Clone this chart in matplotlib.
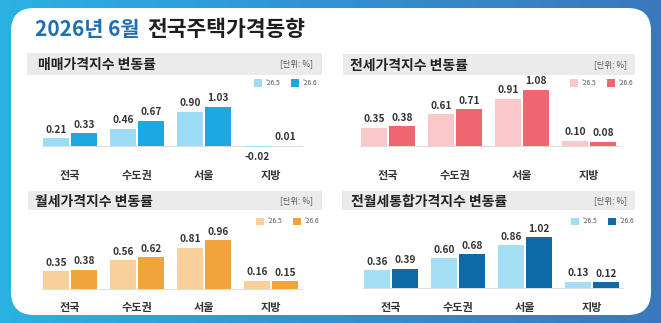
import numpy as np
import matplotlib.pyplot as plt
from matplotlib.patches import FancyBboxPatch, Rectangle
from matplotlib.colors import LinearSegmentedColormap
import matplotlib.transforms as mtransforms

plt.rcParams['font.family'] = ['Noto Sans CJK KR', 'DejaVu Sans']

# data
regions = ['전국', '수도권', '서울', '지방']
series_names = ["'26.5", "'26.6"]
titles = ['매매가격지수 변동률', '전세가격지수 변동률', '월세가격지수 변동률', '전월세통합가격지수 변동률']
may_vals = [
    [0.21, 0.46, 0.90, -0.02],
    [0.35, 0.61, 0.91, 0.10],
    [0.35, 0.56, 0.81, 0.16],
    [0.36, 0.60, 0.86, 0.13],
]
jun_vals = [
    [0.33, 0.67, 1.03, 0.01],
    [0.38, 0.71, 1.08, 0.08],
    [0.38, 0.62, 0.96, 0.15],
    [0.39, 0.68, 1.02, 0.12],
]
light_colors = ['#9edcf5', '#fac7cb', '#f9cf9c', '#a3def5']
dark_colors = ['#1ca8e2', '#f06670', '#f2a43c', '#0e6aa6']

W, H = 661, 323
fig = plt.figure(figsize=(W / 100, H / 100), dpi=100)


def fx(x):
    return x / W


def fy(y):
    return 1 - y / H


# background gradient + white card
bg = fig.add_axes([0, 0, 1, 1])
bg.set_axis_off()
cmap = LinearSegmentedColormap.from_list('bg', ['#2bb1e3', '#3391d2', '#3a78bc'])
grad = np.linspace(0, 1, 256).reshape(1, -1)
bg.imshow(grad, aspect='auto', cmap=cmap, extent=[0, 1, 0, 1])
bg.set_xlim(0, 1)
bg.set_ylim(0, 1)
card = FancyBboxPatch((fx(11), fy(315)), fx(651) - fx(11), fy(8) - fy(315),
                      boxstyle='round,pad=0,rounding_size=0.035', mutation_aspect=W / H,
                      facecolor='white', edgecolor='none', transform=bg.transAxes)
bg.add_patch(card)

# main title
fig.text(fx(35), fy(30), '2026년 6월', fontsize=15, fontweight='bold', color='#1f6fb3', va='center')
fig.text(fx(147), fy(30), '전국주택가격동향', fontsize=15.5, fontweight='bold', color='#1e1e1e', va='center')

# panel layout (pixels): left group center, header box, baseline, scale, label y
panels = [
    dict(c0=70, hdr=(27, 53, 322, 75), tx=38, base=146, scale=38, top=88, bottom=166, lab=175, unit_x=313, leg=83, sq=254),
    dict(c0=388, hdr=(343, 54, 635, 75), tx=350, base=146, scale=52, top=84, bottom=166, lab=175, unit_x=627, leg=83, sq=570),
    dict(c0=70, hdr=(28, 191, 322, 210), tx=35, base=289, scale=51, top=225, bottom=300, lab=307, unit_x=313, leg=221, sq=256),
    dict(c0=391, hdr=(342, 191, 635, 210), tx=351, base=288, scale=50, top=225, bottom=300, lab=307, unit_x=627, leg=221, sq=571),
]
step = 67
x = np.arange(len(regions))
bw = 0.39
off = 0.21

for i, p in enumerate(panels):
    # header bar
    hx0, hy0, hx1, hy1 = p['hdr']
    fig.patches.append(Rectangle((fx(hx0), fy(hy1)), fx(hx1) - fx(hx0), fy(hy0) - fy(hy1),
                                 transform=fig.transFigure, facecolor='#ebebeb', edgecolor='none', zorder=1))
    fig.text(fx(p['tx']), fy((hy0 + hy1) / 2 + 1), titles[i], fontsize=10, fontweight='bold',
             color='#222222', va='center', zorder=2)
    fig.text(fx(p['unit_x']), fy((hy0 + hy1) / 2), '[단위: %]', fontsize=6, color='#555555',
             ha='right', va='center', zorder=2)

    # legend
    for k, col in enumerate([light_colors[i], dark_colors[i]]):
        sx = p['sq'] + k * 37
        fig.patches.append(Rectangle((fx(sx), fy(p['leg'] + 3.5)), fx(8), 7 / H,
                                     transform=fig.transFigure, facecolor=col, edgecolor='none', zorder=2))
        fig.text(fx(sx + 11), fy(p['leg']), series_names[k], fontsize=4.8, color='#555555',
                 va='center', zorder=2)

    # axes
    left = p['c0'] - 0.5 * step
    ax = fig.add_axes([fx(left), fy(p['bottom']), fx(4 * step), (p['bottom'] - p['top']) / H])
    ax.set_xlim(-0.5, 3.5)
    ax.set_ylim(-(p['bottom'] - p['base']) / p['scale'], (p['base'] - p['top']) / p['scale'])
    ax.set_axis_off()
    ax.patch.set_alpha(0)

    ax.axhline(0, xmin=0.02, xmax=0.99, color='#dddddd', linewidth=0.8, zorder=1)
    b1 = ax.bar(x - off, may_vals[i], bw, color=light_colors[i], zorder=2)
    b2 = ax.bar(x + off, jun_vals[i], bw, color=dark_colors[i], zorder=2)

    for bars, vals in [(b1, may_vals[i]), (b2, jun_vals[i])]:
        for rect, v in zip(bars, vals):
            cx = rect.get_x() + rect.get_width() / 2
            if v >= 0:
                ax.annotate(f'{v:.2f}', (cx, v), xytext=(0, 2.5), textcoords='offset points',
                            ha='center', va='bottom', fontsize=7.3, fontweight='bold', color='#333333')
            else:
                ax.annotate(f'{v:.2f}', (cx, v), xytext=(0, -4), textcoords='offset points',
                            ha='center', va='top', fontsize=7.3, fontweight='bold', color='#333333')

    trans = mtransforms.blended_transform_factory(ax.transData, fig.transFigure)
    for xi, name in zip(x, regions):
        ax.text(xi, fy(p['lab']), name, transform=trans, ha='center', va='center',
                fontsize=8, fontweight='bold', color='#333333')

fig.savefig('out.png', dpi=100)
